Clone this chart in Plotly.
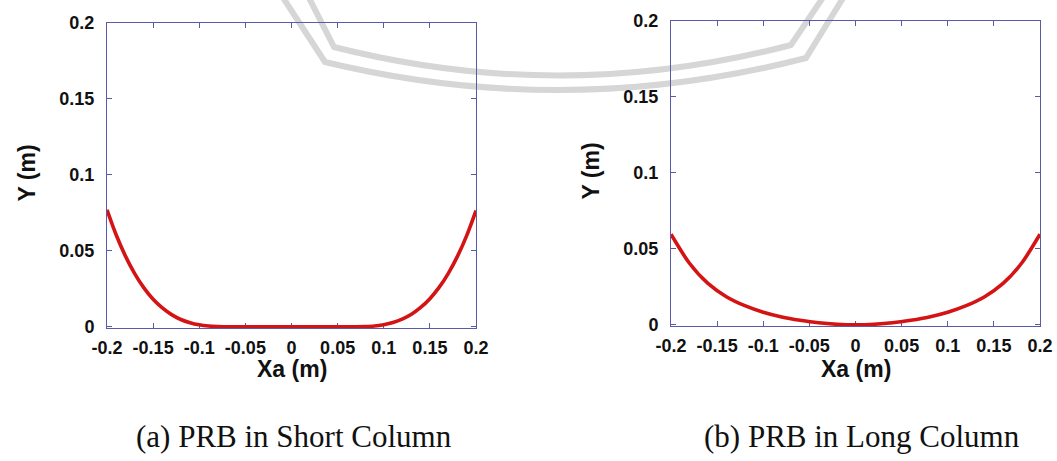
import plotly.graph_objects as go

# ---------------- data ----------------
x_short = [-0.20, -0.19, -0.18, -0.17, -0.16, -0.15, -0.14, -0.13, -0.12, -0.11,
           -0.10, -0.09, -0.08, -0.07, -0.06, -0.05, -0.04, -0.03, -0.02, -0.01,
           0.00, 0.01, 0.02, 0.03, 0.04, 0.05, 0.06, 0.07, 0.08, 0.09,
           0.10, 0.11, 0.12, 0.13, 0.14, 0.15, 0.16, 0.17, 0.18, 0.19, 0.20]
y_short = [0.077, 0.0604, 0.0465, 0.0350, 0.0256, 0.0181, 0.0124, 0.0080, 0.0048, 0.0027,
           0.0013, 0.0005, 0.00013, 0.00001, 0.0, 0.0, 0.0, 0.0, 0.0, 0.0,
           0.0, 0.0, 0.0, 0.0, 0.0, 0.0, 0.0, 0.00001, 0.00014, 0.0005,
           0.0014, 0.0028, 0.0050, 0.0082, 0.0127, 0.0185, 0.0259, 0.0352, 0.0465, 0.0602, 0.0765]

x_long = [-0.20, -0.18, -0.16, -0.14, -0.12, -0.10, -0.08, -0.06, -0.04, -0.02,
          0.00, 0.02, 0.04, 0.06, 0.08, 0.10, 0.12, 0.14, 0.16, 0.18, 0.20]
y_long = [0.0596, 0.0405, 0.0272, 0.0185, 0.0126, 0.0083, 0.0052, 0.0030, 0.0013, 0.00034,
          0.0, 0.00034, 0.0013, 0.0030, 0.0052, 0.0083, 0.0126, 0.0185, 0.0272, 0.0405, 0.0596]

x_ticks = [-0.2, -0.15, -0.1, -0.05, 0, 0.05, 0.1, 0.15, 0.2]
x_tick_labels = ["-0.2", "-0.15", "-0.1", "-0.05", "0", "0.05", "0.1", "0.15", "0.2"]
y_ticks = [0, 0.05, 0.1, 0.15, 0.2]
y_tick_labels = ["0", "0.05", "0.1", "0.15", "0.2"]

captions = ["(a) PRB in Short Column", "(b) PRB in Long Column"]
x_title = "Xa (m)"
y_title = "Y (m)"

# ---------------- layout helpers ----------------
W, H = 1057, 461


def px(x):
    return x / W


def py(y):
    return 1 - y / H


AXIS_COLOR = "#5a5aa8"
LINE_COLOR = "#d41414"

# plot areas in window pixels (left, top, right, bottom)
boxes = [(107, 23, 476, 328), (671, 21, 1040, 326)]

fig = go.Figure()

fig.add_trace(go.Scatter(x=x_short, y=y_short, mode="lines",
                         line=dict(color=LINE_COLOR, width=3.6, shape="spline", smoothing=0.8),
                         xaxis="x", yaxis="y", showlegend=False, hoverinfo="skip"))
fig.add_trace(go.Scatter(x=x_long, y=y_long, mode="lines",
                         line=dict(color=LINE_COLOR, width=3.6, shape="spline", smoothing=0.8),
                         xaxis="x2", yaxis="y2", showlegend=False, hoverinfo="skip"))

tickfont = dict(family="Liberation Sans, Arial, sans-serif", size=18, color="#111111", weight="bold")

common_x = dict(range=[-0.2, 0.2], tickmode="array", tickvals=x_ticks, ticktext=x_tick_labels,
                ticks="inside", ticklen=5, tickwidth=1, tickcolor=AXIS_COLOR,
                showline=True, linecolor=AXIS_COLOR, linewidth=1, mirror="ticks",
                showgrid=False, zeroline=False, tickfont=tickfont, layer="below traces",
                ticklabelstandoff=3, automargin=False)
common_y = dict(range=[-0.0008, 0.2], tickmode="array", tickvals=y_ticks, ticktext=y_tick_labels,
                ticks="inside", ticklen=5, tickwidth=1, tickcolor=AXIS_COLOR,
                showline=True, linecolor=AXIS_COLOR, linewidth=1, mirror="ticks",
                showgrid=False, zeroline=False, tickfont=tickfont, layer="below traces",
                ticklabelstandoff=8, automargin=False)

(l1, t1, r1, b1), (l2, t2, r2, b2) = boxes
fig.update_layout(
    width=W, height=H,
    margin=dict(l=0, r=0, t=0, b=0, pad=0),
    paper_bgcolor="white", plot_bgcolor="rgba(0,0,0,0)",
    xaxis=dict(domain=[px(l1), px(r1)], anchor="y", **common_x),
    yaxis=dict(domain=[py(b1), py(t1)], anchor="x", **common_y),
    xaxis2=dict(domain=[px(l2), px(r2)], anchor="y2", **common_x),
    yaxis2=dict(domain=[py(b2), py(t2)], anchor="x2", **common_y),
)

# axis titles and captions
title_font = dict(family="Liberation Sans, Arial, sans-serif", size=23, color="#111111", weight="bold")
cap_font = dict(family="Liberation Serif, Times New Roman, serif", size=31, color="#111111")
for (l, t, r, b), cap, xc, yc_title_x in [((l1, t1, r1, b1), captions[0], 294, 26),
                                          ((l2, t2, r2, b2), captions[1], 862, 590)]:
    fig.add_annotation(x=px((l + r) / 2), y=py(369), xref="paper", yref="paper",
                       text=x_title, showarrow=False, font=title_font,
                       xanchor="center", yanchor="middle")
    fig.add_annotation(x=px(yc_title_x), y=py((t + b) / 2 - 2), xref="paper", yref="paper",
                       text=y_title, showarrow=False, font=title_font, textangle=-90,
                       xanchor="center", yanchor="middle")
    fig.add_annotation(x=px(xc), y=py(436), xref="paper", yref="paper",
                       text=cap, showarrow=False, font=cap_font,
                       xanchor="center", yanchor="middle")


# faint watermark (two parallel grey arcs) behind the charts
def path(points_cmds):
    out = []
    for cmd, pts in points_cmds:
        coords = " ".join(f"{px(a):.5f},{py(b):.5f}" for a, b in pts)
        out.append(f"{cmd} {coords}")
    return " ".join(out)


wm_upper = path([("M", [(305, -10)]), ("L", [(334, 47)]),
                 ("Q", [(562, 105), (791, 45)]), ("L", [(828, -10)])])
wm_lower = path([("M", [(278, -10)]), ("L", [(325, 62)]),
                 ("Q", [(565, 120), (806, 58)]), ("L", [(848, -10)])])
for p in (wm_upper, wm_lower):
    fig.add_shape(type="path", path=p, xref="paper", yref="paper", layer="below",
                  line=dict(color="#d6d6d6", width=6))

# remove the default page margin so the figure fills the window exactly
page_js = ("document.body.style.margin='0';"
           "document.body.style.overflow='hidden';"
           "document.documentElement.style.overflow='hidden';")
fig.write_html("out.html", post_script=page_js,
               config={"displayModeBar": False, "staticPlot": True})
